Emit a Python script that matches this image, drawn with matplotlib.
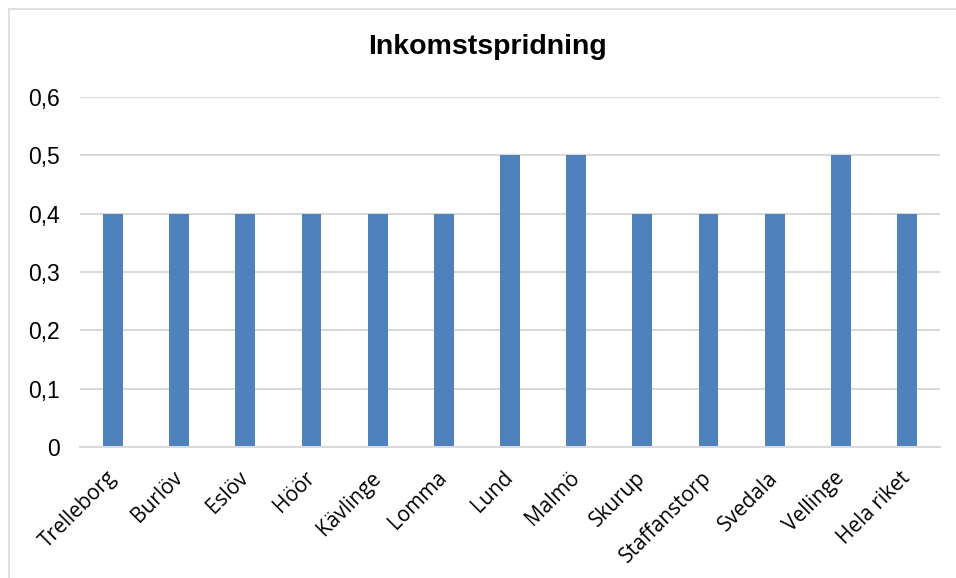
import matplotlib
matplotlib.use("Agg")
import matplotlib.pyplot as plt
from matplotlib.lines import Line2D

categories = ["Trelleborg", "Burlöv", "Eslöv", "Höör", "Kävlinge", "Lomma", "Lund",
              "Malmö", "Skurup", "Staffanstorp", "Svedala", "Vellinge", "Hela riket"]
values = [0.4, 0.4, 0.4, 0.4, 0.4, 0.4, 0.5, 0.5, 0.4, 0.4, 0.4, 0.5, 0.4]
yticks = [0, 0.1, 0.2, 0.3, 0.4, 0.5, 0.6]
ytick_labels = ["0", "0,1", "0,2", "0,3", "0,4", "0,5", "0,6"]
title = "Inkomstspridning"

W, H = 956, 578
fig = plt.figure(figsize=(W / 100, H / 100), dpi=100)
ax = fig.add_axes([80 / W, 1 - 447 / H, 860 / W, 350 / H])

x = list(range(len(categories)))
ax.bar(x, values, width=0.30, color="#4F81BD", zorder=3)
ax.set_xlim(-0.5, len(categories) - 0.5)
ax.set_ylim(0, 0.6)
ax.set_yticks(yticks)
ax.set_yticklabels(ytick_labels, fontfamily="Liberation Sans", fontsize=16.5)
ax.set_xticks(x)
ax.set_xticklabels(categories, rotation=45, ha="right", va="center",
                   rotation_mode="anchor", fontfamily="Open Sans", fontsize=15)
ax.tick_params(axis="x", length=0, pad=20)
ax.tick_params(axis="y", length=0, pad=14.5)
ax.grid(axis="y", color="#D9D9D9", linewidth=1.5, zorder=0)
for s in ["top", "right", "left"]:
    ax.spines[s].set_visible(False)
ax.spines["bottom"].set_color("#D9D9D9")
ax.spines["bottom"].set_linewidth(1.5)
ax.spines["bottom"].set_zorder(4)

fig.text(488 / W, 1 - 47 / H, title, ha="center", va="center",
         fontfamily="Liberation Sans", fontweight="bold", fontsize=20.5)

# outer chart border (top and left visible)
fig.add_artist(Line2D([9 / W, 1], [1 - 9 / H, 1 - 9 / H], transform=fig.transFigure,
                      color="#D9D9D9", linewidth=1.2))
fig.add_artist(Line2D([9 / W, 9 / W], [0, 1 - 9 / H], transform=fig.transFigure,
                      color="#D9D9D9", linewidth=1.2))

fig.savefig("out.png", dpi=100)
